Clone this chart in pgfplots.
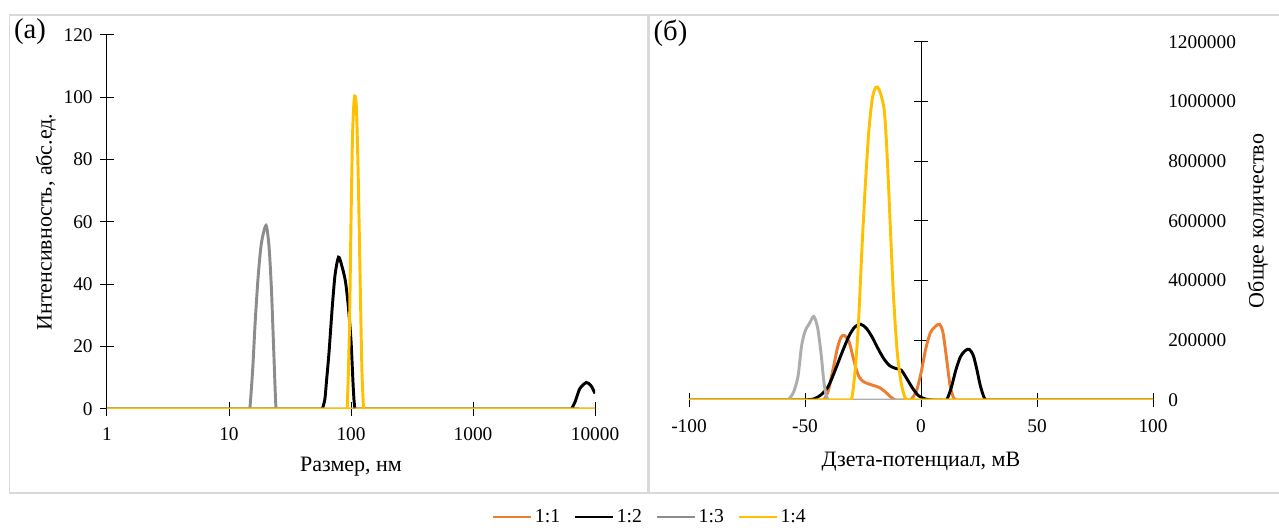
\documentclass[border=0pt]{standalone}
\usepackage{fontspec}
\setmainfont{Liberation Serif}
\usepackage{pgfplots}
\pgfplotsset{compat=1.18}

\definecolor{c11}{HTML}{ED7D31}
\definecolor{c12}{HTML}{000000}
\definecolor{c13}{HTML}{8C8C8C}
\definecolor{c13b}{HTML}{ADADAD}
\definecolor{c14}{HTML}{FFC000}
\definecolor{framegray}{HTML}{D9D9D9}

\newcommand\tickfont{\fontsize{14.5}{16}\selectfont}
\newcommand\legfont{\fontsize{14.8}{16}\selectfont}
\newcommand\titlefont{\fontsize{16.5}{18}\selectfont}
\newcommand\panelfont{\fontsize{21.5}{23}\selectfont}

\pgfplotsset{
  common/.style={
    scale only axis,
    tick label style={font=\tickfont, inner sep=0pt},
    label style={font=\titlefont},
    tick style={black, line width=0.75pt},
    tick align=center,
    xminorticks=false, yminorticks=false,
    every axis plot/.append style={line width=2.2pt, smooth, tension=0.45, mark=none},
  },
  plainlines/.style={
    axis line style={black, line width=0.75pt, -},
    x axis line style={-}, y axis line style={-},
  },
}

\begin{document}
\begin{tikzpicture}
\useasboundingbox (0,0) rectangle (959.25pt,396pt);
% chart area frames
\draw[framegray, line width=1.1pt] (7.1pt,26.25pt) rectangle (485.6pt,384.75pt);
\draw[framegray, line width=1.1pt] (486.75pt,26.25pt) rectangle (965pt,384.75pt);

% (а) size distribution
\begin{axis}[common,
  at={(80.25pt,89.25pt)}, anchor=south west,
  width=366pt, height=280.5pt,
  xmode=log, xmin=1, xmax=10000, ymin=0, ymax=120,
  axis x line*=bottom, axis y line*=left, plainlines,
  xtick={1,10,100,1000,10000}, xticklabels={1,10,100,1000,10000},
  ytick={0,20,40,60,80,100,120}, yticklabels={0,20,40,60,80,100,120},
  major tick length=10pt,
  xticklabel style={anchor=north, yshift=-9pt},
  yticklabel style={anchor=east, xshift=-5.6pt},
  xlabel={Размер, нм}, ylabel={Интенсивность, абс.ед.},
  xlabel style={at={(axis description cs:0.5,-0.155)}, anchor=center},
  ylabel style={at={(axis description cs:-0.125,0.5)}, anchor=center},
  legend columns=4,
  legend style={at={(axis description cs:1.1127,-0.2888)}, anchor=center,
    draw=none, fill=none, font=\legfont,
    /tikz/every even column/.append style={column sep=8pt}},
  legend image code/.code={\draw[#1, line width=2pt] (0pt,0pt) -- (28.5pt,0pt);},
]
\addplot[c11] coordinates {(1,0) (10000,0)};
\addplot[c12] coordinates {
  (1,0) (45,0) (52,0) (56,0) (58,0) (61,3) (63,9) (66,18) (70,32) (74,43)
  (79,48.7) (84,46) (90,41) (95,33) (100,22) (104,8) (106,2.5) (108,0)
  (111,0) (118,0) (150,0) (6000,0) (6200,0) (6400,0) (6900,2.5) (7500,6.5)
  (8500,8.5) (9300,7.4) (10000,5)};
\addplot[c13] coordinates {
  (1,0) (12,0) (13.5,0) (14.3,0) (14.8,0) (15.6,12) (16.4,28) (17.3,42)
  (18.4,53) (20.1,58.9) (21.3,52) (22.3,38) (23.3,18) (24.3,0) (25.3,0)
  (27,0) (10000,0)};
\addplot[c14] coordinates {
  (1,0) (80,0) (87,0) (90,0) (93,0) (97,25) (100,60) (103,88) (106,99)
  (108,100.4) (111,96) (115,72) (119,40) (123,12) (127,0) (131,0) (140,0)
  (10000,0)};
\legend{1:1,1:2,1:3,1:4}
\end{axis}

% (б) zeta potential distribution
\begin{axis}[common,
  at={(516.75pt,96pt)}, anchor=south west,
  width=348pt, height=268.5pt,
  xmin=-100, xmax=100, ymin=0, ymax=1200000,
  axis x line*=bottom, axis y line*=middle, plainlines,
  xtick={-100,-50,0,50,100}, xticklabels={},
  ytick={0,200000,400000,600000,800000,1000000,1200000}, yticklabels={},
  major tick length=10.5pt,
  xlabel={Дзета-потенциал, мВ}, ylabel={Общее количество},
  xlabel style={at={(axis description cs:0.5,-0.173)}, anchor=center},
  ylabel style={at={(axis description cs:1.2263,0.5)}, anchor=center,
    font=\titlefont},
  scaled y ticks=false,
]
\addplot[c11] coordinates {
  (-100,0) (-46,0) (-44,0) (-42,0) (-40,30000) (-38,100000) (-36,175000)
  (-34.5,210000) (-33,216000) (-31,195000) (-29.5,150000) (-28,105000)
  (-26.5,75000) (-24.5,60000) (-21,50000) (-18,42000) (-15.5,28000)
  (-13,10000) (-11,0) (-9,0) (-6.5,0) (-4.5,0) (-2,30000) (0,90000)
  (2,170000) (4,225000) (6,245000) (8,254000) (9.5,225000) (11,140000)
  (12.5,50000) (14,8000) (15,0) (17,0) (20,0) (100,0)};
\addplot[c12] coordinates {
  (-100,0) (-54,0) (-52,0) (-50,0) (-46,4000) (-43,18000) (-40,45000)
  (-37,100000) (-34,160000) (-31,215000) (-28.5,245000) (-26,254000)
  (-23.5,240000) (-21,210000) (-18.5,172000) (-16,138000) (-13.5,115000)
  (-11,106000) (-8.5,100000) (-6,70000) (-3.5,38000) (-1,14000) (2,3000)
  (5,0) (7,0) (9,0) (11,0) (13,40000) (15,100000) (17,145000) (19,165000)
  (20.8,170000) (22.5,150000) (24,105000) (25.5,50000) (27,12000) (28,0)
  (30,0) (33,0) (100,0)};
\addplot[c13b] coordinates {
  (-100,0) (-62,0) (-59.5,0) (-57.5,0) (-55,25000) (-53,80000)
  (-51.5,180000) (-50,230000) (-48,258000) (-46.2,280000) (-44.5,240000)
  (-43,150000) (-42,70000) (-41,20000) (-40,0) (-39,0) (-37,0) (100,0)};
\addplot[c14] coordinates {
  (-100,0) (-35,0) (-32,0) (-30,0) (-28.5,90000) (-27,250000)
  (-25.5,500000) (-24,720000) (-22.5,900000) (-21,1010000) (-19.5,1048000)
  (-18,1040000) (-16,980000) (-15,880000) (-14,720000) (-13,540000)
  (-12,370000) (-11,240000) (-10,140000) (-8.5,55000) (-7,10000) (-5.5,0)
  (-4,0) (-1,0) (100,0)};
\end{axis}

% tick values of (б): x below the axis, y beside the right edge
\begin{axis}[
  scale only axis,
  at={(516.75pt,96pt)}, anchor=south west,
  width=348pt, height=268.5pt,
  xmin=-100, xmax=100, ymin=0, ymax=1200000,
  axis line style={draw=none},
  xtick={-100,-50,0,50,100}, xticklabels={-100,-50,0,50,100},
  xticklabel pos=left,
  ytick={0,200000,400000,600000,800000,1000000,1200000},
  yticklabels={0,200000,400000,600000,800000,1000000,1200000},
  yticklabel pos=right,
  major tick length=0pt, tick style={draw=none},
  tick label style={font=\tickfont, inner sep=0pt},
  xticklabel style={anchor=north, yshift=-14.7pt},
  yticklabel style={anchor=west, xshift=11.25pt},
  scaled y ticks=false,
]
\end{axis}

\node[font=\panelfont] at (22.5pt,372pt) {(а)};
\node[font=\panelfont] at (502.9pt,371.25pt) {(б)};
\end{tikzpicture}
\end{document}
